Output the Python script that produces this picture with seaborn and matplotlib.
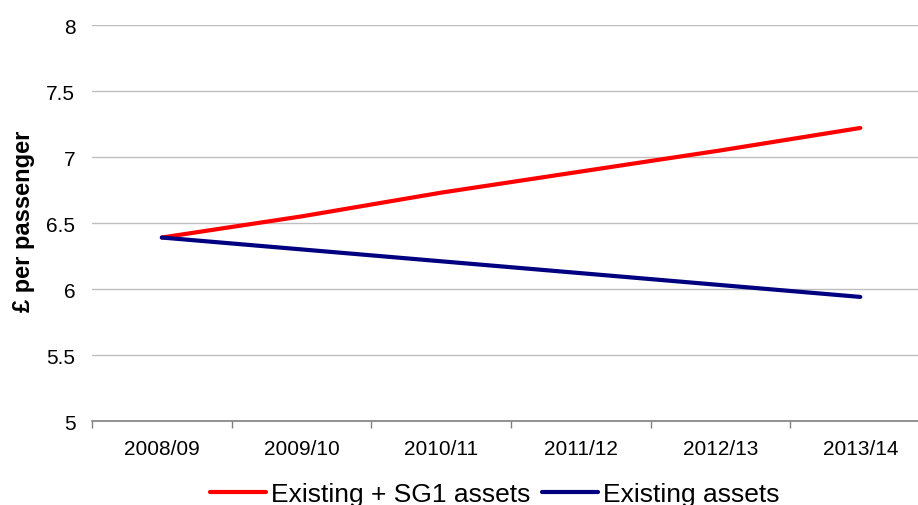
import matplotlib
matplotlib.use("Agg")
import matplotlib.pyplot as plt
import seaborn as sns
import pandas as pd

# Cost per passenger by financial year
years = ["2008/09", "2009/10", "2010/11", "2011/12", "2012/13", "2013/14"]
existing_plus_sg1 = [6.39, 6.55, 6.73, 6.89, 7.05, 7.22]
existing_only = [6.39, 6.30, 6.21, 6.12, 6.03, 5.94]
series_names = ["Existing + SG1 assets", "Existing assets"]
y_ticks = [5, 5.5, 6, 6.5, 7, 7.5, 8]
y_tick_labels = ["5", "5.5", "6", "6.5", "7", "7.5", "8"]

df = pd.DataFrame({
    "year": years * 2,
    "value": existing_plus_sg1 + existing_only,
    "series": [series_names[0]] * len(years) + [series_names[1]] * len(years),
})

sns.set_theme(style="white")
plt.rcParams["font.family"] = ["Liberation Sans", "DejaVu Sans"]
plt.rcParams["text.color"] = "black"

fig = plt.figure(figsize=(9.18, 5.06), dpi=100)
ax = fig.add_axes([0.1002, 0.166, 0.913, 0.7826])

sns.lineplot(
    data=df, x="year", y="value", hue="series", sort=False,
    palette={series_names[0]: "#ff0000", series_names[1]: "#000080"},
    linewidth=3.0, ax=ax, legend=True, solid_capstyle="round",
)

n = len(years)
ax.set_xlim(-0.5, n - 0.5)
ax.set_ylim(5, 8)

# Category labels centred, tick marks on the category boundaries
ax.set_xticks(range(n))
ax.set_xticklabels(years, fontsize=15, color="black")
ax.set_xticks([i - 0.5 for i in range(n + 1)], minor=True)
ax.tick_params(axis="x", which="major", length=0, pad=13)
ax.tick_params(axis="x", which="minor", bottom=True, length=5, width=1, color="#808080")

ax.set_yticks(y_ticks)
ax.set_yticklabels(y_tick_labels, fontsize=15, color="black")
ax.tick_params(axis="y", length=0, pad=12)

ax.yaxis.grid(True, color="#bebebe", linewidth=1.0)
ax.set_axisbelow(True)
for side in ["left", "right", "top"]:
    ax.spines[side].set_visible(False)
ax.spines["bottom"].set_color("#808080")
ax.spines["bottom"].set_linewidth(1.2)

ax.set_xlabel("")
ax.set_ylabel("")
fig.text(24 / 918, 1 - 221 / 506, "£ per passenger", rotation=90,
         ha="center", va="center", fontsize=17, fontweight="bold", color="black")

handles, labels = ax.get_legend_handles_labels()
leg = ax.legend(handles, labels, loc="center", bbox_to_anchor=(0.539, 0.022),
                bbox_transform=fig.transFigure, ncol=2, frameon=False,
                fontsize=19, handlelength=2.1, handletextpad=0.2,
                columnspacing=0.45, borderpad=0)
for t in leg.get_texts():
    t.set_color("black")

fig.savefig("out.png", dpi=100)
